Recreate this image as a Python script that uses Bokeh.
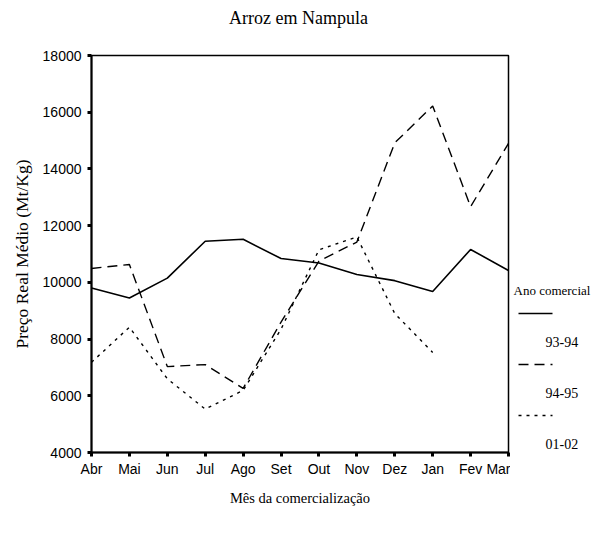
from bokeh.plotting import figure
from bokeh.models import FixedTicker, Range1d
from bokeh.layouts import row, column
from bokeh.embed import file_html
from bokeh.resources import INLINE

title_text = "Arroz em Nampula"
months = ["Abr", "Mai", "Jun", "Jul", "Ago", "Set", "Out", "Nov", "Dez", "Jan", "Fev", "Mar"]
s_93_94 = [9800, 9450, 10150, 11450, 11520, 10840, 10680, 10280, 10060, 9680, 11160, 10420]
s_94_95 = [10490, 10630, 7030, 7100, 6260, 8600, 10750, 11420, 14920, 16220, 12670, 14900]
s_01_02 = [7180, 8420, 6600, 5530, 6190, 8350, 11150, 11600, 8900, 7530]
y_ticks = [4000, 6000, 8000, 10000, 12000, 14000, 16000, 18000]
series_names = ["93-94", "94-95", "01-02"]
styles = [dict(line_dash="solid", line_width=1.6),
          dict(line_dash="10 6", line_width=1.4),
          dict(line_dash="3 5", line_width=1.4)]

x_all = list(range(len(months)))
TOP = 30  # height of the title strip


def blank(fig):
    fig.axis.visible = False
    fig.grid.visible = False
    fig.outline_line_color = None
    fig.background_fill_color = "white"
    fig.border_fill_color = "white"


# Title strip
tf = figure(width=598, height=TOP, output_backend="svg", toolbar_location=None,
            x_range=Range1d(91, 508), y_range=Range1d(TOP, 0),
            min_border_left=91, min_border_right=90, min_border_top=0, min_border_bottom=0)
blank(tf)
tf.text(x=[298], y=[17], text=[title_text], text_font="Liberation Serif",
        text_font_size="18px", text_align="center", text_baseline="middle", text_color="black")

# Main chart
p = figure(width=510, height=533 - TOP, output_backend="svg", toolbar_location=None,
           x_range=Range1d(0, 11), y_range=Range1d(4000, 18000),
           min_border_left=91, min_border_right=2, min_border_top=55 - TOP, min_border_bottom=81)
p.background_fill_color = "white"
p.border_fill_color = "white"
p.outline_line_color = "black"
p.outline_line_width = 1.5
p.grid.visible = False

p.line(x_all, s_93_94, line_color="black", **styles[0])
p.line(x_all, s_94_95, line_color="black", **styles[1])
p.line(x_all[:len(s_01_02)], s_01_02, line_color="black", **styles[2])

for ax in (p.xaxis[0], p.yaxis[0]):
    ax.axis_line_width = 2
    ax.major_tick_line_width = 3
    ax.major_tick_in = 0
    ax.major_tick_out = 4
    ax.minor_tick_line_color = None
    ax.major_label_text_font = "Liberation Sans"
    ax.major_label_text_font_size = "14px"
    ax.major_label_text_color = "black"
    ax.axis_label_text_font = "Liberation Serif"
    ax.axis_label_text_font_style = "normal"
    ax.axis_label_text_color = "black"

p.xaxis.ticker = FixedTicker(ticks=x_all)
p.xaxis.major_label_overrides = {i: m for i, m in enumerate(months)}
p.xaxis.major_label_standoff = 4
p.xaxis.axis_label = "Mês da comercialização"
p.xaxis.axis_label_text_font_size = "14.5px"
p.xaxis.axis_label_standoff = 10

p.yaxis.ticker = FixedTicker(ticks=y_ticks)
p.yaxis.major_label_standoff = 6
p.yaxis.axis_label = "Preço Real Médio (Mt/Kg)"
p.yaxis.axis_label_text_font_size = "17.5px"
p.yaxis.axis_label_standoff = 8

# Legend panel: its frame is aligned with the main frame (image rows 55..452)
lg = figure(width=88, height=533 - TOP, output_backend="svg", toolbar_location=None,
            x_range=Range1d(510, 598), y_range=Range1d(452, 55),
            min_border_left=0, min_border_right=0,
            min_border_top=55 - TOP, min_border_bottom=81)
blank(lg)

lg.text(x=[513], y=[290], text=["Ano comercial"], text_font="Liberation Serif",
        text_font_size="13px", text_baseline="middle", text_align="left", text_color="black")
for i, name in enumerate(series_names):
    yl = 313 + 51 * i
    lg.line(x=[518, 552], y=[yl, yl], line_color="black", **styles[i])
    lg.text(x=[545], y=[yl + 28], text=[name], text_font="Liberation Sans",
            text_font_size="14px", text_baseline="middle", text_align="left", text_color="black")

layout = column(tf, row(p, lg, spacing=0), spacing=0)
open("out.html", "w").write(file_html(layout, INLINE))
